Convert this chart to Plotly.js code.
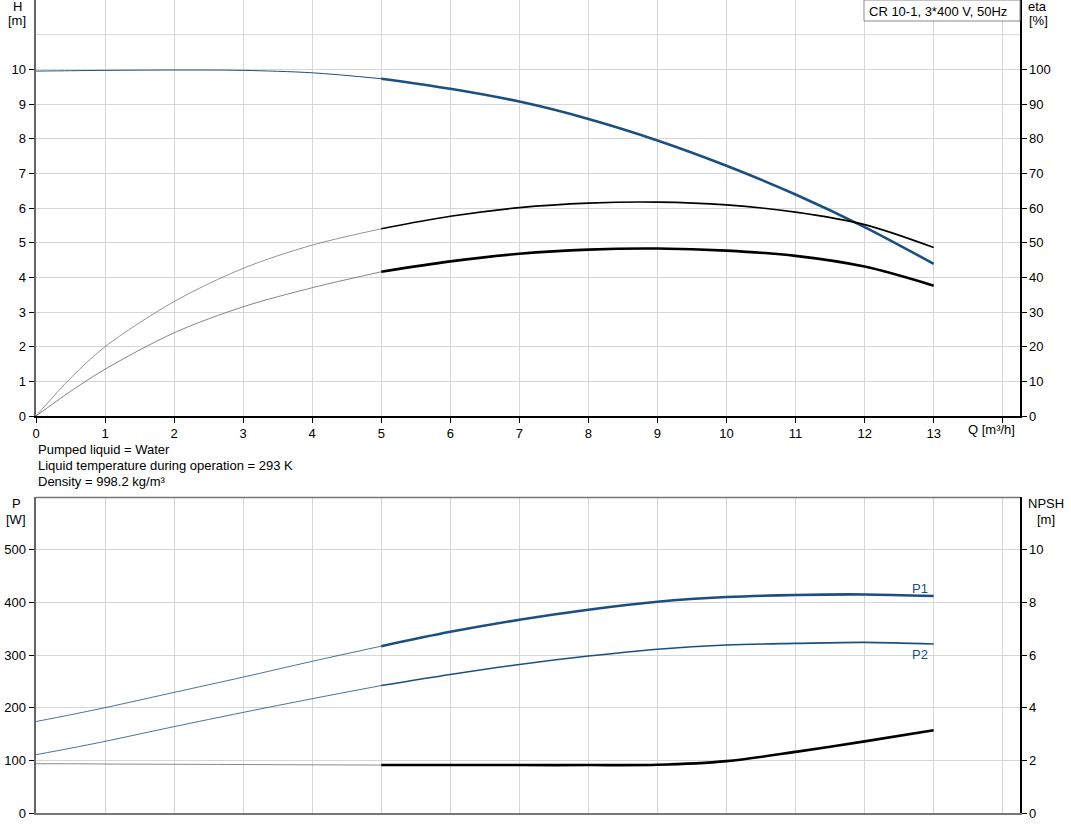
<!DOCTYPE html>
<html><head><meta charset="utf-8">
<script src="https://cdn.plot.ly/plotly-3.0.1.min.js"></script>
<style>body{margin:0;background:#fff}#c{width:1071px;height:833px}</style>
</head><body><div id="c"></div>
<script>
// ---- data ----
const q = [0, 0.5, 1, 2, 3, 4, 5, 6, 7, 8, 9, 10, 11, 12, 13];
const headH = [9.95, 9.96, 9.97, 9.98, 9.97, 9.9, 9.73, 9.44, 9.07, 8.57, 7.95, 7.22, 6.39, 5.45, 4.39];
const etaUpper = [0, 10.9, 20.0, 33.0, 42.6, 49.3, 54.0, 57.6, 60.1, 61.4, 61.7, 60.9, 58.8, 55.2, 48.6];
const etaLower = [0, 7.1, 13.5, 24.0, 31.5, 37.0, 41.6, 44.6, 46.8, 48.0, 48.3, 47.7, 46.2, 43.1, 37.6];
const powerP1 = [173.7, 186.5, 200, 229, 258, 288, 316.8, 344, 367, 386, 401, 410, 414, 415, 412];
const powerP2 = [110.7, 123, 136, 164, 191, 217, 242, 263, 282, 298, 311, 319, 322, 324, 321];
const npsh = [1.87, 1.87, 1.86, 1.85, 1.84, 1.83, 1.82, 1.82, 1.82, 1.82, 1.83, 1.97, 2.32, 2.72, 3.14];
const qTicks = [0,1,2,3,4,5,6,7,8,9,10,11,12,13,14];
const qTickText = ['0','1','2','3','4','5','6','7','8','9','10','11','12','13',''];
const hTicks = [0,1,2,3,4,5,6,7,8,9,10];
const etaTicks = [0,10,20,30,40,50,60,70,80,90,100];
const pTicks = [0,100,200,300,400,500];
const npshTicks = [0,2,4,6,8,10];
const infoLines = ['Pumped liquid = Water', 'Liquid temperature during operation = 293 K', 'Density = 998.2 kg/m³'];
const pumpName = 'CR 10-1, 3*400 V, 50Hz';

// ---- helpers ----
const SPLIT = 5;
function seg(xs, ys, lo){
  const ox=[], oy=[];
  xs.forEach((x,i)=>{ if(lo ? x<=SPLIT : x>=SPLIT){ox.push(x);oy.push(ys[i]);} });
  return {x:ox, y:oy};
}
const BLUE = '#1b4f82';
function tr(ys, lo, xa, ya, color, width){
  const s = seg(q, ys, lo);
  return {x:s.x, y:s.y, xaxis:xa, yaxis:ya, mode:'lines', hoverinfo:'skip',
    line:{color:color, width:width, shape:'spline', smoothing:0.9}, showlegend:false};
}
const traces = [
  tr(headH, true, 'x', 'y', BLUE, 1),
  tr(headH, false, 'x', 'y', BLUE, 2.6),
  tr(etaUpper, true, 'x', 'y3', '#777', 0.8),
  tr(etaUpper, false, 'x', 'y3', '#000', 1.6),
  tr(etaLower, true, 'x', 'y3', '#666', 0.8),
  tr(etaLower, false, 'x', 'y3', '#000', 2.6),
  tr(powerP1, true, 'x2', 'y2', BLUE, 0.8),
  tr(powerP1, false, 'x2', 'y2', BLUE, 2.6),
  tr(powerP2, true, 'x2', 'y2', BLUE, 0.8),
  tr(powerP2, false, 'x2', 'y2', BLUE, 1.6),
  tr(npsh, true, 'x2', 'y4', '#888', 1),
  tr(npsh, false, 'x2', 'y4', '#000', 2.6)
];

const L=36, R=1020, T=0, B=813;
const px = v => (v-L)/(R-L);
const py = v => (B-v)/(B-T);
const FONT = {family:'Liberation Sans, Arial, sans-serif', size:13, color:'#000'};
const topDom = [py(416), 1];
const botDom = [0, py(497)];
const gridC = '#d6d6d6';

function ann(text, x, y, xanchor, extra){
  return Object.assign({text:text, x:px(x), y:py(y), xref:'paper', yref:'paper',
    xanchor:xanchor||'center', yanchor:'middle', showarrow:false, font:FONT}, extra||{});
}
const annotations = [
  ann('H', 17, 7), ann('[m]', 17, 21),
  ann('eta', 1037, 7), ann('[%]', 1038, 21),
  ann('P', 16, 503), ann('[W]', 16, 519),
  ann('NPSH', 1046, 503), ann('[m]', 1046, 519),
  ann('Q [m³/h]', 966, 430, 'left'),
  ann(pumpName, 867, 11, 'left'),
  ann('P1', 920, 588, 'center', {font:Object.assign({}, FONT, {color:BLUE})}),
  ann('P2', 920, 654, 'center', {font:Object.assign({}, FONT, {color:BLUE})})
];
infoLines.forEach((t,i)=>annotations.push(ann(t, 36, 449+i*16.5, 'left')));

const layout = {
  width:1071, height:833,
  margin:{l:L, r:1071-R, t:T, b:833-B, pad:0},
  paper_bgcolor:'#fff', plot_bgcolor:'#fff',
  font:FONT, showlegend:false,
  xaxis:{domain:[0,1], anchor:'y', range:[0,14.25], tickvals:qTicks, ticktext:qTickText,
    ticks:'outside', ticklen:5, tickcolor:'#000', showgrid:true, gridcolor:gridC, gridwidth:1,
    showline:true, linecolor:'#000', linewidth:1.5, zeroline:false, tickfont:FONT},
  yaxis:{domain:topDom, anchor:'x', range:[0,12], tickvals:hTicks,
    ticks:'outside', ticklen:5, tickcolor:'#000', showgrid:true, gridcolor:gridC,
    showline:true, linecolor:'#666', linewidth:2.5, zeroline:false, tickfont:FONT},
  yaxis3:{overlaying:'y', side:'right', anchor:'x', range:[0,120],
    tickvals:etaTicks, ticks:'outside', ticklen:5, tickcolor:'#000',
    showgrid:false, showline:true, linecolor:'#000', linewidth:1.5, zeroline:false, tickfont:FONT},
  xaxis2:{domain:[0,1], anchor:'y2', range:[0,14.25], tickvals:qTicks, showticklabels:false,
    ticks:'', showgrid:true, gridcolor:gridC, showline:true, linecolor:'#777', linewidth:1.5, zeroline:false},
  yaxis2:{domain:botDom, anchor:'x2', range:[0,600], tickvals:pTicks,
    ticks:'outside', ticklen:5, tickcolor:'#000', showgrid:true, gridcolor:gridC,
    showline:true, linecolor:'#666', linewidth:2.5, zeroline:false, tickfont:FONT},
  yaxis4:{overlaying:'y2', side:'right', anchor:'x2', range:[0,12],
    tickvals:npshTicks, ticks:'outside', ticklen:5, tickcolor:'#000',
    showgrid:false, showline:true, linecolor:'#000', linewidth:1.5, zeroline:false, tickfont:FONT},
  shapes:[
    {type:'line', xref:'paper', yref:'y', x0:0, x1:1, y0:11, y1:11,
      line:{color:gridC, width:1}, layer:'below'},
    {type:'line', xref:'paper', yref:'paper', x0:0, x1:1, y0:py(497.5), y1:py(497.5),
      line:{color:'#777', width:1.5}},
    {type:'rect', xref:'paper', yref:'paper', x0:px(864), x1:px(1020), y0:py(21), y1:py(0),
      fillcolor:'#fff', line:{color:'#888', width:1}}
  ],
  annotations:annotations
};
Plotly.newPlot('c', traces, layout, {displayModeBar:false, staticPlot:true});
</script></body></html>
